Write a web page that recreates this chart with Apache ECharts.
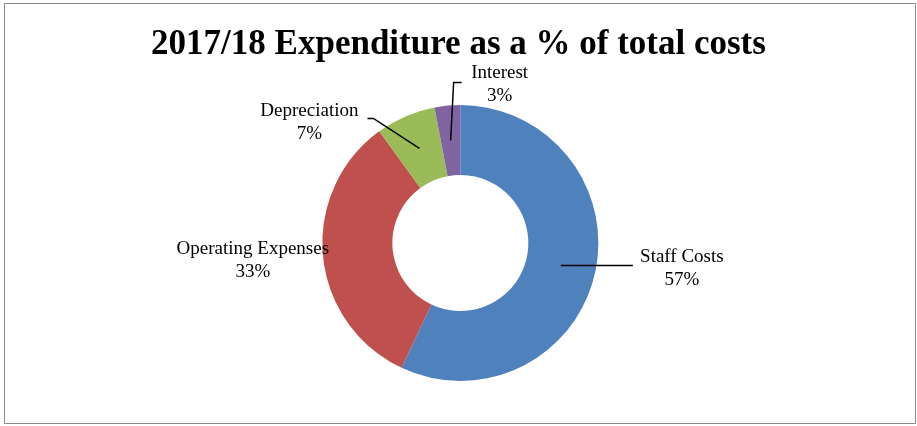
<!DOCTYPE html>
<html>
<head>
<meta charset="utf-8">
<script src="https://cdn.jsdelivr.net/npm/echarts@6/dist/echarts.min.js"></script>
<style>
  html, body { margin: 0; padding: 0; background: #fff; }
  #chart { width: 917px; height: 426px; }
</style>
</head>
<body>
<div id="chart"></div>
<script>
// Expenditure categories and their share of total costs (%)
const categories = ['Staff Costs', 'Operating Expenses', 'Depreciation', 'Interest'];
const shares = [57, 33, 7, 3];
const colors = ['#4F81BD', '#C0504D', '#9BBB59', '#8064A2'];

// Label placement relative to the leader-line anchor (middle of the ring at the slice's mid-angle):
// elbow/end of the leader line and centre of the label block.
const labelGuides = [
  { line: [[72, 0]], label: [121, 3], showLine: true },
  { line: [], label: [-105, 8], showLine: false },
  { line: [[-46, -30], [-52, -30]], label: [-110, -26], showLine: true },
  { line: [[3, -58], [11, -58]], label: [49, -55.5], showLine: true }
];

const chart = echarts.init(document.getElementById('chart'), null, { renderer: 'canvas' });

function ringAnchor(seriesIndex, idx) {
  const data = chart.getModel().getSeriesByIndex(seriesIndex).getData();
  const l = data.getItemLayout(idx);
  const mid = (l.startAngle + l.endAngle) / 2;
  const r = (l.r + l.r0) / 2;
  return [l.cx + r * Math.cos(mid), l.cy + r * Math.sin(mid)];
}

const pieCenter = ['50.2%', 243];
const pieRadius = [68, 138];

chart.setOption({
  backgroundColor: '#fff',
  animation: false,
  title: {
    text: '2017/18 Expenditure as a % of total costs',
    left: 'center',
    top: 22,
    textStyle: {
      fontFamily: 'Liberation Serif',
      fontWeight: 'bold',
      fontSize: 35,
      color: '#000'
    }
  },
  graphic: [{
    type: 'rect',
    shape: { x: 4.5, y: 3.5, width: 911, height: 420 },
    style: { fill: 'none', stroke: '#8c8c8c', lineWidth: 1 },
    silent: true
  }],
  series: [
    // the doughnut itself
    {
      type: 'pie',
      center: pieCenter,
      radius: pieRadius,
      startAngle: 90,
      clockwise: true,
      color: colors,
      itemStyle: { borderWidth: 0 },
      label: { show: false },
      labelLine: { show: false },
      data: categories.map((name, i) => ({ name: name, value: shares[i] }))
    },
    // transparent copy on top carrying the data labels and leader lines
    {
      type: 'pie',
      z: 5,
      silent: true,
      center: pieCenter,
      radius: pieRadius,
      startAngle: 90,
      clockwise: true,
      itemStyle: { color: 'rgba(0,0,0,0)', borderWidth: 0 },
      emphasis: { disabled: true },
      label: {
        show: true,
        position: 'outside',
        formatter: p => p.name + '\n' + p.value + '%',
        fontFamily: 'Liberation Serif',
        fontSize: 19,
        lineHeight: 23,
        color: '#000',
        align: 'center'
      },
      labelLine: {
        show: true,
        lineStyle: { color: '#000', width: 1.5 }
      },
      labelLayout: function (params) {
        const g = labelGuides[params.dataIndex];
        const a = ringAnchor(1, params.dataIndex);
        const pts = [a].concat(g.line.map(d => [a[0] + d[0], a[1] + d[1]]));
        const out = {
          x: a[0] + g.label[0],
          y: a[1] + g.label[1],
          align: 'center',
          verticalAlign: 'middle'
        };
        if (g.showLine) out.labelLinePoints = pts;
        return out;
      },
      data: categories.map((name, i) => ({
        name: name,
        value: shares[i],
        labelLine: { show: labelGuides[i].showLine }
      }))
    }
  ]
});
</script>
</body>
</html>
